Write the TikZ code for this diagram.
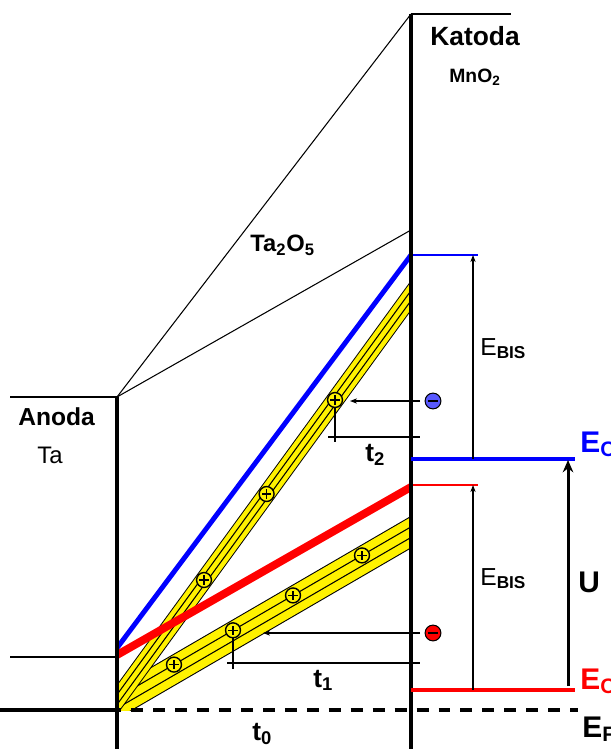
\documentclass[tikz,border=0pt]{standalone}
\usepackage{fontspec}
\setmainfont{Liberation Sans}
\usetikzlibrary{arrows.meta, positioning}

\begin{document}
\begin{tikzpicture}[x=0.02cm, y=-0.02cm,
        electrode/.style={line width=2.3pt, draw=black},
        hairline/.style={line width=0.6pt, draw=black},
        level/.style={line width=1.9pt},
        edgeline/.style={-{Stealth[length=4pt, width=3pt]}, line width=0.6pt},
        hole/.style={circle, draw=black, fill=yellow, line width=0.8pt, minimum size=8.5pt, inner sep=0pt,
            path picture={\draw[line width=0.7pt] ([xshift=-2.6pt]path picture bounding box.center) -- ([xshift=2.6pt]path picture bounding box.center)
                ([yshift=-2.6pt]path picture bounding box.center) -- ([yshift=2.6pt]path picture bounding box.center);}},
        electron/.style={circle, draw=black, line width=0.6pt, minimum size=9pt, inner sep=0pt,
            path picture={\draw[line width=0.9pt] ([xshift=-2.6pt]path picture bounding box.center) -- ([xshift=2.6pt]path picture bounding box.center);}},
        txt/.style={anchor=base west, inner sep=0pt}
    ]
    \useasboundingbox (0,0) rectangle (610,749);

    % Pasma (dziury)
    \begin{scope}
        \clip (117,0) rectangle (411,710);
        \draw[line width=16pt, black] (100,712.9) -- (430,521.1);
        \draw[line width=14.8pt, yellow] (100,712.9) -- (430,521.1);
        \draw[hairline] (100,707.6) -- (430,515.8);
        \draw[hairline] (100,718.2) -- (430,526.4);
        \draw[line width=10.2pt, black] (100,723) -- (430,269.5);
        \draw[line width=9.1pt, yellow] (100,723) -- (430,269.5);
        \draw[hairline] (100,718) -- (430,264.5);
        \draw[hairline] (100,728) -- (430,274.5);
    \end{scope}

    % Elektrody
    \coordinate (A0) at (117,397);
    \coordinate (A1) at (117,749);
    \coordinate (K0) at (411,14);
    \coordinate (K1) at (411,749);
    \coordinate (Ktop) at (511,14);
    \coordinate (Ox) at (411,230);
    \coordinate (Aleft) at (10,397);
    \coordinate (Amid) at (10,657);
    \coordinate (Amid1) at (117,657);
    \coordinate (F0) at (0,710);
    \coordinate (F1) at (117,710);
    \coordinate (F2) at (578,710);

    % Tlenek Ta2O5
    \draw[hairline] (A0) -- (K0);
    \draw[hairline] (A0) -- (Ox);
    \draw[hairline] (Aleft) -- (A0);
    \draw[hairline] (Amid) -- (Amid1);

    % Pasma przewodnictwa
    \coordinate (B0) at (117,648);
    \coordinate (B1) at (411,255);
    \coordinate (B2) at (478,255);
    \coordinate (R0) at (117,655);
    \coordinate (R1) at (411,487);
    \coordinate (R2) at (411,485);
    \coordinate (R3) at (478,485);
    \draw[line width=2.8pt, blue] (B0) -- (B1);
    \draw[line width=4.5pt, red] (R0) -- (R1);
    \draw[line width=0.8pt, blue] (B1) -- (B2);
    \draw[line width=0.8pt, red] (R2) -- (R3);

    \draw[electrode] (A0) -- (A1);
    \draw[electrode] (K0) -- (K1);
    \draw[line width=1.2pt] (K0) -- (Ktop);
    \draw[line width=2.1pt] (F0) -- (F1);
    \draw[line width=2.1pt, dash pattern=on 6.8pt off 5.7pt, dash phase=-8pt] (F1) -- (F2);

    % Poziomy E_C
    \coordinate (CB0) at (411,459);
    \coordinate (CB1) at (575,459);
    \coordinate (CR0) at (411,690);
    \coordinate (CR1) at (575,690);
    \draw[level, blue] (CB0) -- (CB1);
    \draw[level, red] (CR0) -- (CR1);

    \coordinate (EB1a) at (473,459);
    \coordinate (EB1b) at (473,255);
    \coordinate (EB2a) at (473,690);
    \coordinate (EB2b) at (473,485);
    \draw[edgeline] (EB1a) -- (EB1b);
    \draw[edgeline] (EB2a) -- (EB2b);
    \coordinate (U0) at (568,686);
    \coordinate (U1) at (568,460);
    \draw[-{Stealth[length=7pt, width=6pt]}, line width=1.7pt] (U0) -- (U1);

    % Dziury na pasmach
    \node[hole] (h1) at (174,664.6) {};
    \node[hole] (h2) at (233,630.3) {};
    \node[hole] (h3) at (293,595.4) {};
    \node[hole] (h4) at (362,555.4) {};
    \node[hole] (g1) at (204,580) {};
    \node[hole] (g2) at (266.6,494) {};
    \node[hole] (g3) at (335,400) {};

    % Elektrony
    \node[electron, fill=blue!65!white] (eB) at (433,401) {};
    \node[electron, fill=red] (eR) at (433,633) {};

    \coordinate (eB0) at (420,401);
    \coordinate (eB1) at (350,401);
    \coordinate (t2a) at (328,437);
    \coordinate (t2b) at (420,437);
    \coordinate (t2c) at (335,442);
    \draw[edgeline] (eB0) -- (eB1);
    \draw[hairline] (t2a) -- (t2b);
    \draw[hairline] (g3.south) -- (t2c);

    \coordinate (eR0) at (420,633);
    \coordinate (eR1) at (263,633);
    \coordinate (t1a) at (227,663);
    \coordinate (t1b) at (420,663);
    \coordinate (t1c) at (233,669);
    \draw[edgeline] (eR0) -- (eR1);
    \draw[hairline] (t1a) -- (t1b);
    \draw[hairline] (h2.south) -- (t1c);

    % Opisy
    \node[txt, font=\fontsize{15}{18}\selectfont\bfseries] (katoda) at (430,46) {Katoda};
    \node[txt, font=\fontsize{11}{13}\selectfont\bfseries] (mno) at (449,83) {MnO\textsubscript{2}};
    \node[txt, font=\fontsize{14}{17}\selectfont\bfseries] (anoda) at (18,425) {Anoda};
    \node[txt, font=\fontsize{13.6}{16}\selectfont] (ta) at (37,463) {Ta};
    \node[txt, font=\fontsize{13.5}{16}\selectfont\bfseries] (tlenek) at (250,252) {Ta\textsubscript{2}O\textsubscript{5}};
    \node[txt, font=\fontsize{14}{17}\selectfont] (ebis1) at (480,355) {E\textsubscript{\textbf{BIS}}};
    \node[txt, font=\fontsize{14}{17}\selectfont] (ebis2) at (480,585) {E\textsubscript{\textbf{BIS}}};
    \node[txt, font=\fontsize{17}{20}\selectfont\bfseries] (U) at (578,592) {U};
    \node[txt, font=\fontsize{17}{20}\selectfont\bfseries, text=blue] (ecb) at (580,452) {E\textsubscript{C}};
    \node[txt, font=\fontsize{17}{20}\selectfont\bfseries, text=red] (ecr) at (580,689) {E\textsubscript{C}};
    \node[txt, font=\fontsize{17}{20}\selectfont\bfseries] (ef) at (582,737) {E\textsubscript{F}};
    \node[txt, font=\fontsize{15}{18}\selectfont\bfseries] (t0) at (252,740) {t\textsubscript{0}};
    \node[txt, font=\fontsize{15}{18}\selectfont\bfseries] (t1) at (313,687) {t\textsubscript{1}};
    \node[txt, font=\fontsize{15}{18}\selectfont\bfseries] (t2) at (365,461) {t\textsubscript{2}};
\end{tikzpicture}
\end{document}
